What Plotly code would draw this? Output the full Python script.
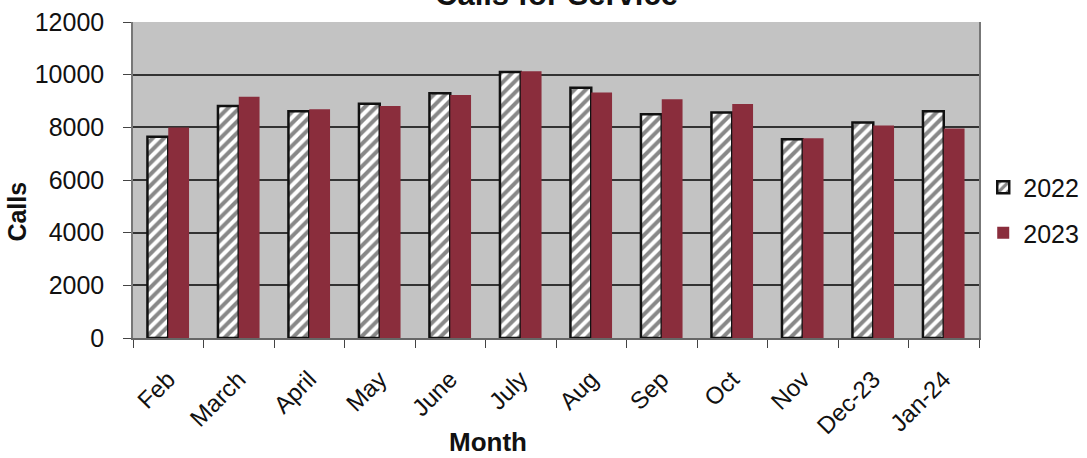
import plotly.graph_objects as go

months = ["Feb", "March", "April", "May", "June", "July", "Aug", "Sep", "Oct", "Nov", "Dec-23", "Jan-24"]
calls_2022 = [7640, 8810, 8610, 8900, 9290, 10100, 9500, 8500, 8560, 7550, 8180, 8610]
calls_2023 = [7990, 9160, 8690, 8810, 9230, 10130, 9320, 9070, 8890, 7590, 8070, 7960]
y_ticks = [0, 2000, 4000, 6000, 8000, 10000, 12000]
y_tick_text = [str(v) for v in y_ticks]

FONT = "Liberation Sans, Arial, sans-serif"

fig = go.Figure()
fig.add_trace(go.Bar(
    x=months, y=calls_2022, name="2022", legendgroup="a",
    marker=dict(color="white", line=dict(color="#111", width=2.5),
                pattern=dict(shape="/", fgcolor="#111", bgcolor="white", size=8, solidity=0.5)),
))
fig.add_trace(go.Bar(
    x=months, y=calls_2023, name="2023", legendgroup="b",
    marker=dict(color="#8a2d3c", line=dict(width=0)),
))

fig.update_layout(
    width=1087, height=458,
    margin=dict(l=133, r=108, t=22, b=120, autoexpand=False),
    paper_bgcolor="white", plot_bgcolor="#c3c3c3",
    barmode="group", bargap=0.41, bargroupgap=0,
    font=dict(family=FONT, color="#111", size=22),
    showlegend=True,
    legend=dict(x=1.005, y=0.405, xanchor="left", yanchor="middle",
                font=dict(size=25), tracegroupgap=10, itemwidth=30,
                bgcolor="rgba(0,0,0,0)"),
    annotations=[
        dict(text="<b>Calls for Service</b>", xref="paper", yref="paper",
             x=0.5, y=1, xanchor="center", yanchor="bottom", yshift=8,
             showarrow=False, font=dict(size=31, family=FONT)),
        dict(text="<b>Month</b>", xref="paper", yref="paper",
             x=0.42, y=0, xanchor="center", yanchor="middle", yshift=-104,
             showarrow=False, font=dict(size=26, family=FONT)),
        dict(text="<b>Calls</b>", xref="paper", yref="paper",
             x=0, y=0.40, xanchor="center", yanchor="middle", xshift=-116,
             textangle=-90, showarrow=False, font=dict(size=25, family=FONT)),
    ],
)

fig.update_xaxes(
    tickangle=-45, tickfont=dict(size=24), ticks="outside", ticklen=8,
    tickson="boundaries", tickcolor="#444", showline=True, linecolor="#666",
    linewidth=1.5, showgrid=False, automargin=False, ticklabelstandoff=16,
)
fig.update_yaxes(
    range=[0, 12000], tickvals=y_ticks, ticktext=y_tick_text, tickfont=dict(size=25),
    ticks="outside", ticklen=8, tickcolor="#444", showline=True, mirror=True,
    linecolor="#777", linewidth=1.5, gridcolor="#333", gridwidth=1.5,
    zeroline=False, automargin=False, ticklabelstandoff=14,
)

fig.write_html("out.html", config={"displayModeBar": False},
               post_script="document.body.style.margin='0';")
